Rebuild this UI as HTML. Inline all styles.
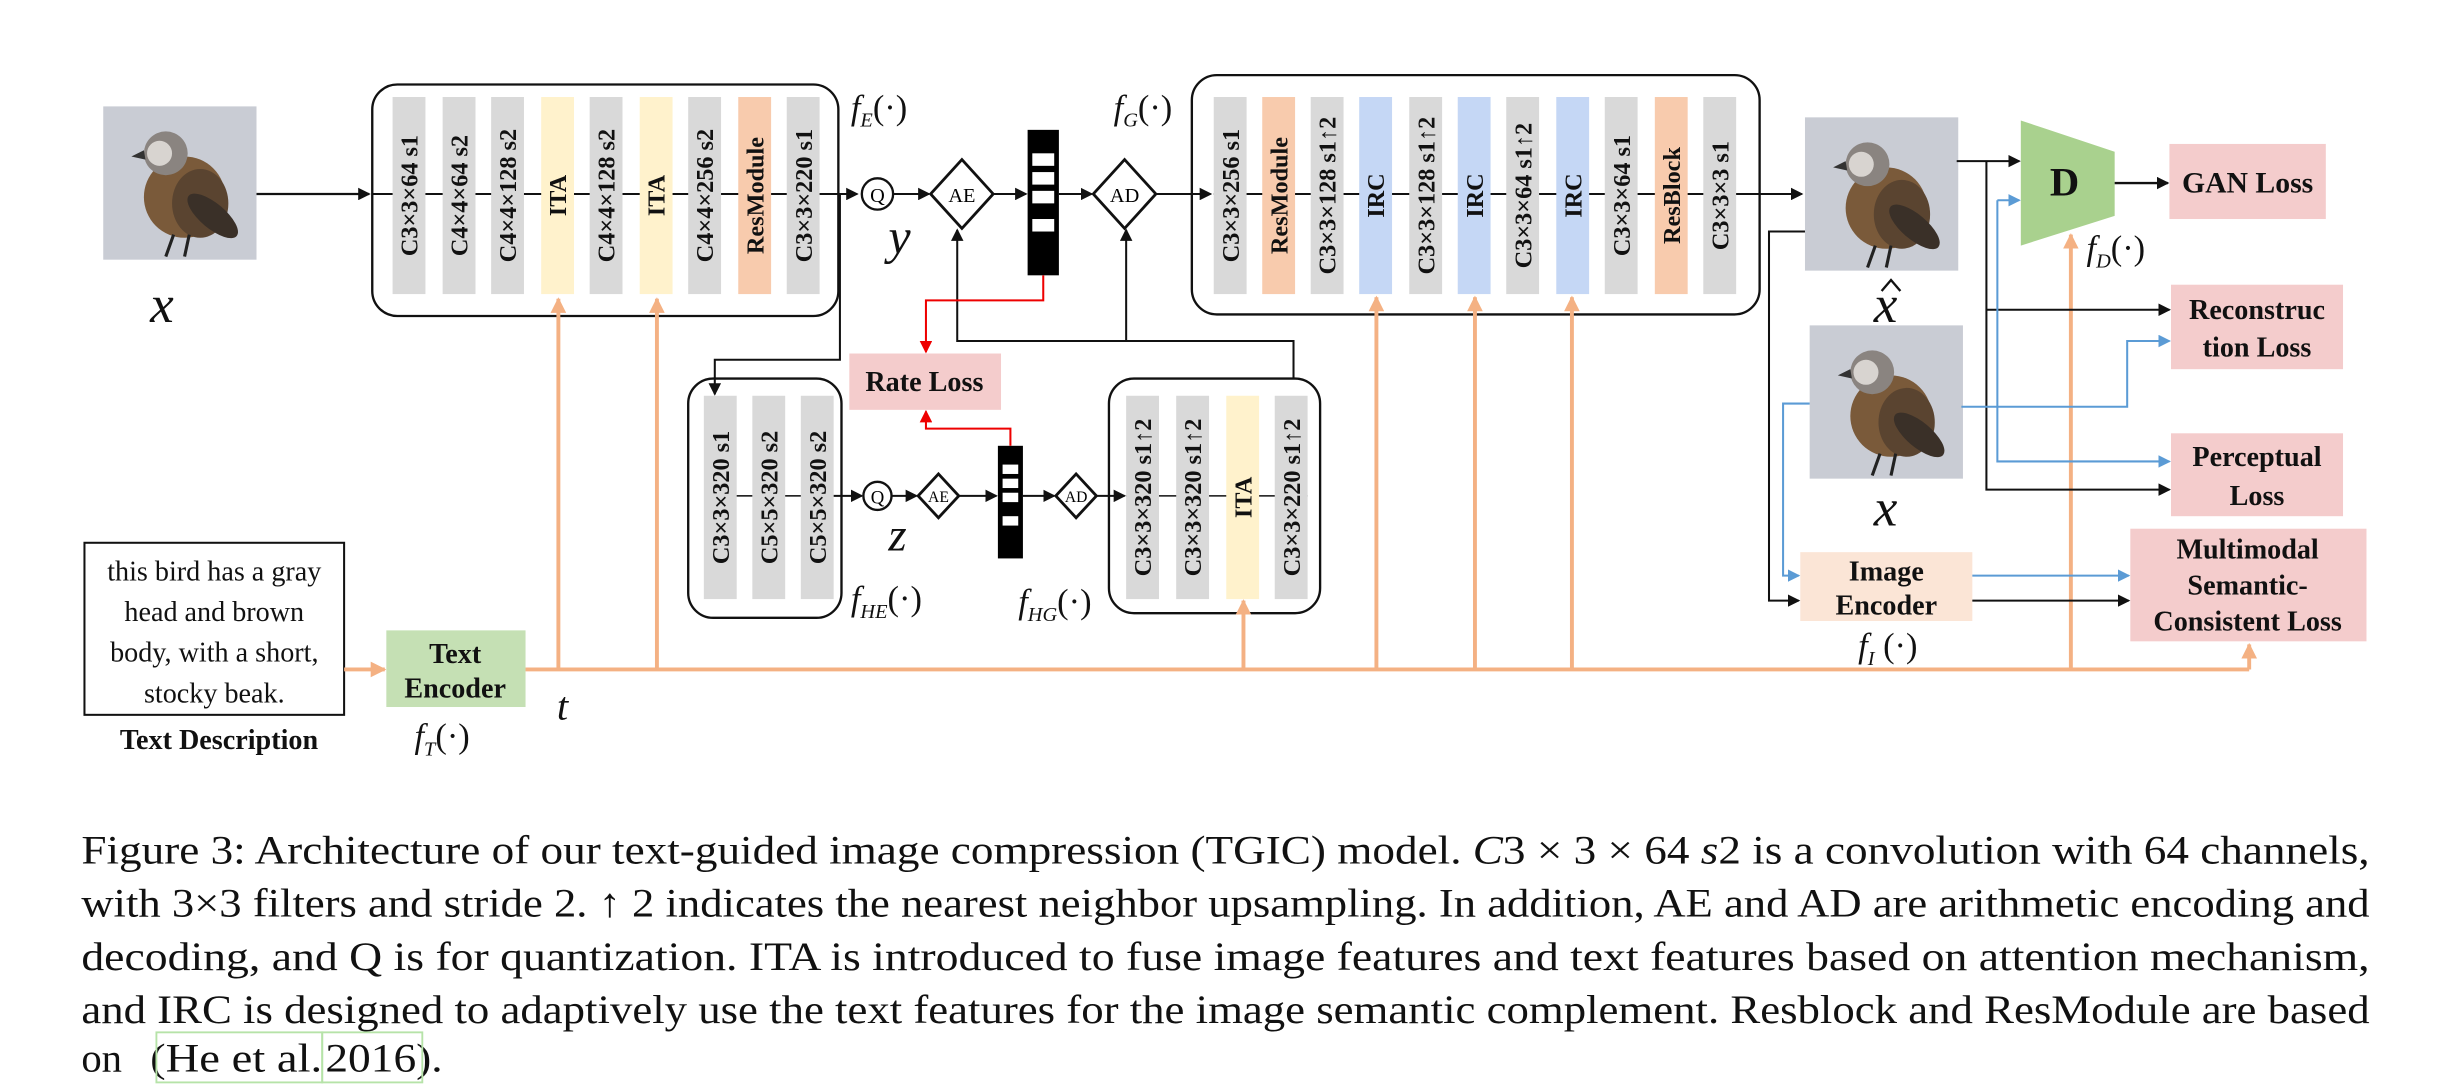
<!DOCTYPE html>
<html><head><meta charset="utf-8"><style>
html,body{margin:0;padding:0;background:#fff;}
svg{display:block}
.c{font-family:"Liberation Serif",serif;font-weight:bold;font-size:15.5px;fill:#111}
.lb{font-family:"Liberation Serif",serif;font-weight:bold;fill:#111}
.it{font-family:"Liberation Serif",serif;font-style:italic;fill:#111}
.cap{font-family:"Liberation Serif",serif;font-size:26px;fill:#111}
</style></head><body>
<svg width="2440" height="1084" viewBox="0 0 1560 693" xmlns="http://www.w3.org/2000/svg">
<defs>
<marker id="ak" markerWidth="8" markerHeight="8" refX="7" refY="4" orient="auto" markerUnits="userSpaceOnUse"><path d="M0,0 L8,4 L0,8 z" fill="#111"/></marker>
<marker id="ar" markerWidth="8" markerHeight="8" refX="7" refY="4" orient="auto" markerUnits="userSpaceOnUse"><path d="M0,0 L8,4 L0,8 z" fill="#e00"/></marker>
<marker id="ab" markerWidth="8" markerHeight="8" refX="7" refY="4" orient="auto" markerUnits="userSpaceOnUse"><path d="M0,0 L8,4 L0,8 z" fill="#5b9bd5"/></marker>
<marker id="ao" markerWidth="10" markerHeight="10" refX="9" refY="5" orient="auto" markerUnits="userSpaceOnUse"><path d="M0,0 L10,5 L0,10 z" fill="#f4b183"/></marker>
<g id="bird">
<rect x="0" y="0" width="98" height="98" fill="#c9ccd4"/>
<ellipse cx="52" cy="58" rx="26" ry="26" fill="#7a5a3a"/>
<ellipse cx="62" cy="62" rx="18" ry="22" fill="#5a4430"/>
<ellipse cx="70" cy="70" rx="20" ry="8" fill="#3a3028" transform="rotate(40 70 70)"/>
<circle cx="40" cy="30" r="14" fill="#8a8480"/>
<circle cx="36" cy="30" r="8" fill="#d8d4d0"/>
<path d="M26,28 L18,32 L27,34 z" fill="#333"/>
<path d="M45,82 L40,96 M55,82 L52,96" stroke="#222" stroke-width="2"/>
</g>
</defs>

<use href="#bird" x="66" y="68"/>
<use href="#bird" x="1154" y="75"/>
<use href="#bird" x="1157" y="208"/>
<text class="it" x="96" y="206" font-size="34">x</text>
<text class="it" x="1198" y="206" font-size="34">x</text>
<polyline points="1203,186 1209,179 1215,186" fill="none" stroke="#111" stroke-width="1.5"/>
<text class="it" x="1198" y="336" font-size="34">x</text>

<line x1="164" y1="124" x2="236" y2="124" stroke="#111" stroke-width="1.5" marker-end="url(#ak)"/>
<line x1="238" y1="124" x2="548" y2="124" stroke="#111" stroke-width="1.3" marker-end="url(#ak)"/>

<rect x="238" y="54" width="298" height="148" rx="16" fill="none" stroke="#111" stroke-width="1.5"/>
<g>
<rect x="251" y="62" width="21" height="126" fill="#d9d9d9"/>
<rect x="283" y="62" width="21" height="126" fill="#d9d9d9"/>
<rect x="314" y="62" width="21" height="126" fill="#d9d9d9"/>
<rect x="346" y="62" width="21" height="126" fill="#fff2cc"/>
<rect x="377" y="62" width="21" height="126" fill="#d9d9d9"/>
<rect x="409" y="62" width="21" height="126" fill="#fff2cc"/>
<rect x="440" y="62" width="21" height="126" fill="#d9d9d9"/>
<rect x="472" y="62" width="21" height="126" fill="#f8cbad"/>
<rect x="503" y="62" width="21" height="126" fill="#d9d9d9"/>
</g>
<g class="c" text-anchor="middle">
<text transform="translate(267,125) rotate(-90)">C3×3×64 s1</text>
<text transform="translate(299,125) rotate(-90)">C4×4×64 s2</text>
<text transform="translate(330,125) rotate(-90)">C4×4×128 s2</text>
<text transform="translate(362,125) rotate(-90)">ITA</text>
<text transform="translate(393,125) rotate(-90)">C4×4×128 s2</text>
<text transform="translate(425,125) rotate(-90)">ITA</text>
<text transform="translate(456,125) rotate(-90)">C4×4×256 s2</text>
<text transform="translate(488,125) rotate(-90)">ResModule</text>
<text transform="translate(519,125) rotate(-90)">C3×3×220 s1</text>
</g>
<text class="it" x="544" y="76" font-size="22">f<tspan font-size="13" dy="5">E</tspan><tspan dy="-5" font-style="normal">(·)</tspan></text>
<text class="it" x="712" y="76" font-size="22">f<tspan font-size="13" dy="5">G</tspan><tspan dy="-5" font-style="normal">(·)</tspan></text>

<circle cx="561" cy="124" r="10" fill="#fff" stroke="#111" stroke-width="1.5"/>
<text x="561" y="129" font-family="Liberation Serif" font-size="13" text-anchor="middle">Q</text>
<text class="it" x="568" y="162" font-size="32">y</text>
<line x1="571" y1="124" x2="594" y2="124" stroke="#111" stroke-width="1.3" marker-end="url(#ak)"/>
<polygon points="595,124 615,102 635,124 615,146" fill="#fff" stroke="#111" stroke-width="1.8"/>
<text x="615" y="129" font-family="Liberation Serif" font-size="13" text-anchor="middle">AE</text>
<line x1="635" y1="124" x2="656" y2="124" stroke="#111" stroke-width="1.3" marker-end="url(#ak)"/>
<rect x="657" y="83" width="20" height="93" fill="#000"/>
<rect x="660" y="98" width="14" height="8" fill="#fff"/>
<rect x="660" y="110" width="14" height="8" fill="#fff"/>
<rect x="660" y="122" width="14" height="8" fill="#fff"/>
<rect x="660" y="140" width="14" height="8" fill="#fff"/>
<line x1="677" y1="124" x2="698" y2="124" stroke="#111" stroke-width="1.3" marker-end="url(#ak)"/>
<polygon points="699,124 719,102 739,124 719,146" fill="#fff" stroke="#111" stroke-width="1.8"/>
<text x="719" y="129" font-family="Liberation Serif" font-size="13" text-anchor="middle">AD</text>
<line x1="739" y1="124" x2="774" y2="124" stroke="#111" stroke-width="1.3" marker-end="url(#ak)"/>

<rect x="762" y="48" width="363" height="153" rx="16" fill="none" stroke="#111" stroke-width="1.5"/>
<line x1="776" y1="124" x2="1110" y2="124" stroke="#111" stroke-width="1.3"/>
<g>
<rect x="776" y="62" width="21" height="126" fill="#d9d9d9"/>
<rect x="807" y="62" width="21" height="126" fill="#f8cbad"/>
<rect x="838" y="62" width="21" height="126" fill="#d9d9d9"/>
<rect x="869" y="62" width="21" height="126" fill="#c5d7f5"/>
<rect x="901" y="62" width="21" height="126" fill="#d9d9d9"/>
<rect x="932" y="62" width="21" height="126" fill="#c5d7f5"/>
<rect x="963" y="62" width="21" height="126" fill="#d9d9d9"/>
<rect x="995" y="62" width="21" height="126" fill="#c5d7f5"/>
<rect x="1026" y="62" width="21" height="126" fill="#d9d9d9"/>
<rect x="1058" y="62" width="21" height="126" fill="#f8cbad"/>
<rect x="1089" y="62" width="21" height="126" fill="#d9d9d9"/>
</g>
<g class="c" text-anchor="middle">
<text transform="translate(792,125) rotate(-90)">C3×3×256 s1</text>
<text transform="translate(823,125) rotate(-90)">ResModule</text>
<text transform="translate(854,125) rotate(-90)">C3×3×128 s1↑2</text>
<text transform="translate(885,125) rotate(-90)">IRC</text>
<text transform="translate(917,125) rotate(-90)">C3×3×128 s1↑2</text>
<text transform="translate(948,125) rotate(-90)">IRC</text>
<text transform="translate(979,125) rotate(-90)">C3×3×64 s1↑2</text>
<text transform="translate(1011,125) rotate(-90)">IRC</text>
<text transform="translate(1042,125) rotate(-90)">C3×3×64 s1</text>
<text transform="translate(1074,125) rotate(-90)">ResBlock</text>
<text transform="translate(1105,125) rotate(-90)">C3×3×3 s1</text>
</g>
<line x1="1110" y1="124" x2="1152" y2="124" stroke="#111" stroke-width="1.3" marker-end="url(#ak)"/>

<polyline points="537,124 537,230 457,230 457,252" fill="none" stroke="#111" stroke-width="1.3" marker-end="url(#ak)"/>

<rect x="440" y="242" width="98" height="153" rx="16" fill="none" stroke="#111" stroke-width="1.5"/>
<rect x="450" y="253" width="21" height="130" fill="#d9d9d9"/>
<rect x="481" y="253" width="21" height="130" fill="#d9d9d9"/>
<rect x="512" y="253" width="21" height="130" fill="#d9d9d9"/>
<line x1="471" y1="317" x2="481" y2="317" stroke="#111"/>
<line x1="502" y1="317" x2="512" y2="317" stroke="#111"/>
<g class="c" text-anchor="middle">
<text transform="translate(466,318) rotate(-90)">C3×3×320 s1</text>
<text transform="translate(497,318) rotate(-90)">C5×5×320 s2</text>
<text transform="translate(528,318) rotate(-90)">C5×5×320 s2</text>
</g>
<line x1="533" y1="317" x2="551" y2="317" stroke="#111" stroke-width="1.3" marker-end="url(#ak)"/>
<circle cx="561" cy="317" r="9" fill="#fff" stroke="#111" stroke-width="1.5"/>
<text x="561" y="322" font-family="Liberation Serif" font-size="12" text-anchor="middle">Q</text>
<text class="it" x="568" y="352" font-size="30">z</text>
<line x1="570" y1="317" x2="586" y2="317" stroke="#111" stroke-width="1.3" marker-end="url(#ak)"/>
<polygon points="587,317 600,303 613,317 600,331" fill="#fff" stroke="#111" stroke-width="1.8"/>
<text x="600" y="321" font-family="Liberation Serif" font-size="10" text-anchor="middle">AE</text>
<line x1="613" y1="317" x2="637" y2="317" stroke="#111" stroke-width="1.3" marker-end="url(#ak)"/>
<rect x="638" y="285" width="16" height="72" fill="#000"/>
<rect x="641" y="297" width="10" height="6" fill="#fff"/>
<rect x="641" y="306" width="10" height="6" fill="#fff"/>
<rect x="641" y="315" width="10" height="6" fill="#fff"/>
<rect x="641" y="330" width="10" height="6" fill="#fff"/>
<line x1="654" y1="317" x2="674" y2="317" stroke="#111" stroke-width="1.3" marker-end="url(#ak)"/>
<polygon points="675,317 688,303 701,317 688,331" fill="#fff" stroke="#111" stroke-width="1.8"/>
<text x="688" y="321" font-family="Liberation Serif" font-size="10" text-anchor="middle">AD</text>
<line x1="701" y1="317" x2="719" y2="317" stroke="#111" stroke-width="1.3" marker-end="url(#ak)"/>
<text class="it" x="544" y="390" font-size="22">f<tspan font-size="13" dy="5">HE</tspan><tspan dy="-5" font-style="normal">(·)</tspan></text>
<text class="it" x="651" y="392" font-size="22">f<tspan font-size="13" dy="5">HG</tspan><tspan dy="-5" font-style="normal">(·)</tspan></text>

<rect x="709" y="242" width="135" height="150" rx="16" fill="none" stroke="#111" stroke-width="1.5"/>
<line x1="720" y1="317" x2="836" y2="317" stroke="#111"/>
<rect x="720" y="253" width="21" height="130" fill="#d9d9d9"/>
<rect x="752" y="253" width="21" height="130" fill="#d9d9d9"/>
<rect x="784" y="253" width="21" height="130" fill="#fff2cc"/>
<rect x="815" y="253" width="21" height="130" fill="#d9d9d9"/>
<g class="c" text-anchor="middle">
<text transform="translate(736,318) rotate(-90)">C3×3×320 s1↑2</text>
<text transform="translate(768,318) rotate(-90)">C3×3×320 s1↑2</text>
<text transform="translate(800,318) rotate(-90)">ITA</text>
<text transform="translate(831,318) rotate(-90)">C3×3×220 s1↑2</text>
</g>
<polyline points="827,242 827,218 612,218 612,147" fill="none" stroke="#111" stroke-width="1.3" marker-end="url(#ak)"/>
<line x1="720" y1="218" x2="720" y2="147" stroke="#111" stroke-width="1.3" marker-end="url(#ak)"/>

<rect x="543" y="226" width="97" height="36" fill="#f4cccc"/>
<text class="lb" x="591" y="250" font-size="18" text-anchor="middle">Rate Loss</text>
<polyline points="667,176 667,192 592,192 592,225" fill="none" stroke="#e00" stroke-width="1.3" marker-end="url(#ar)"/>
<polyline points="646,285 646,274 592,274 592,263" fill="none" stroke="#e00" stroke-width="1.3" marker-end="url(#ar)"/>

<rect x="54" y="347" width="166" height="110" fill="#fff" stroke="#111" stroke-width="1.3"/>
<g font-family="Liberation Serif" font-size="18" text-anchor="middle" fill="#111">
<text x="137" y="371">this bird has a gray</text>
<text x="137" y="397">head and brown</text>
<text x="137" y="423">body, with a short,</text>
<text x="137" y="449">stocky beak.</text>
</g>
<text class="lb" x="140" y="479" font-size="18" text-anchor="middle">Text Description</text>
<line x1="220" y1="428" x2="246" y2="428" stroke="#f4b183" stroke-width="2.5" marker-end="url(#ao)"/>
<rect x="247" y="403" width="89" height="49" fill="#c5e0b4"/>
<text class="lb" x="291" y="424" font-size="18" text-anchor="middle">Text</text>
<text class="lb" x="291" y="446" font-size="18" text-anchor="middle">Encoder</text>
<text class="it" x="265" y="478" font-size="22">f<tspan font-size="13" dy="5">T</tspan><tspan dy="-5" font-style="normal">(·)</tspan></text>
<text class="it" x="356" y="460" font-size="26">t</text>

<g stroke="#f4b183" stroke-width="2.5" fill="none">
<line x1="336" y1="428" x2="1438" y2="428"/>
<line x1="1438" y1="428" x2="1438" y2="412" marker-end="url(#ao)"/>
<line x1="357" y1="428" x2="357" y2="191" marker-end="url(#ao)"/>
<line x1="420" y1="428" x2="420" y2="191" marker-end="url(#ao)"/>
<line x1="795" y1="428" x2="795" y2="384" marker-end="url(#ao)"/>
<line x1="880" y1="428" x2="880" y2="190" marker-end="url(#ao)"/>
<line x1="943" y1="428" x2="943" y2="190" marker-end="url(#ao)"/>
<line x1="1005" y1="428" x2="1005" y2="190" marker-end="url(#ao)"/>
<line x1="1324" y1="428" x2="1324" y2="150" marker-end="url(#ao)"/>
</g>

<polygon points="1292,77 1352,97 1352,138 1292,157" fill="#a9d18e"/>
<text class="lb" x="1320" y="125" font-size="26" text-anchor="middle">D</text>
<text class="it" x="1334" y="166" font-size="22">f<tspan font-size="13" dy="5">D</tspan><tspan dy="-5" font-style="normal">(·)</tspan></text>
<line x1="1352" y1="117" x2="1386" y2="117" stroke="#111" stroke-width="1.5" marker-end="url(#ak)"/>

<rect x="1387" y="92" width="100" height="48" fill="#f4cccc"/>
<text class="lb" x="1437" y="123" font-size="19" text-anchor="middle">GAN Loss</text>
<rect x="1388" y="182" width="110" height="54" fill="#f4cccc"/>
<text class="lb" x="1443" y="204" font-size="18" text-anchor="middle">Reconstruc</text>
<text class="lb" x="1443" y="228" font-size="18" text-anchor="middle">tion Loss</text>
<rect x="1388" y="277" width="110" height="53" fill="#f4cccc"/>
<text class="lb" x="1443" y="298" font-size="18" text-anchor="middle">Perceptual</text>
<text class="lb" x="1443" y="323" font-size="18" text-anchor="middle">Loss</text>
<rect x="1362" y="338" width="151" height="72" fill="#f4cccc"/>
<text class="lb" x="1437" y="357" font-size="18" text-anchor="middle">Multimodal</text>
<text class="lb" x="1437" y="380" font-size="18" text-anchor="middle">Semantic-</text>
<text class="lb" x="1437" y="403" font-size="18" text-anchor="middle">Consistent Loss</text>

<rect x="1151" y="353" width="110" height="44" fill="#fbe5d6"/>
<text class="lb" x="1206" y="371" font-size="18" text-anchor="middle">Image</text>
<text class="lb" x="1206" y="393" font-size="18" text-anchor="middle">Encoder</text>
<text class="it" x="1188" y="420" font-size="22">f<tspan font-size="13" dy="5">I</tspan><tspan dy="-5" font-style="normal"> (·)</tspan></text>

<g stroke="#111" stroke-width="1.3" fill="none">
<line x1="1251" y1="103" x2="1291" y2="103" marker-end="url(#ak)"/>
<polyline points="1270,103 1270,313 1387,313" marker-end="url(#ak)"/>
<line x1="1270" y1="198" x2="1387" y2="198" marker-end="url(#ak)"/>
<polyline points="1154,148 1131,148 1131,384 1150,384" marker-end="url(#ak)"/>
<line x1="1261" y1="384" x2="1361" y2="384" marker-end="url(#ak)"/>
</g>
<g stroke="#5b9bd5" stroke-width="1.3" fill="none">
<polyline points="1277,128 1277,295 1387,295" marker-end="url(#ab)"/>
<line x1="1277" y1="128" x2="1291" y2="128" marker-end="url(#ab)"/>
<polyline points="1254,260 1360,260 1360,218 1387,218" marker-end="url(#ab)"/>
<polyline points="1157,258 1140,258 1140,368 1150,368" marker-end="url(#ab)"/>
<line x1="1261" y1="368" x2="1361" y2="368" marker-end="url(#ab)"/>
</g>

<g class="cap">
<text x="52" y="552" textLength="1463" lengthAdjust="spacingAndGlyphs">Figure 3: Architecture of our text-guided image compression (TGIC) model. <tspan font-style="italic">C</tspan>3 × 3 × 64 <tspan font-style="italic">s</tspan>2 is a convolution with 64 channels,</text>
<text x="52" y="586" textLength="1463" lengthAdjust="spacingAndGlyphs">with 3×3 filters and stride 2. ↑ 2 indicates the nearest neighbor upsampling. In addition, AE and AD are arithmetic encoding and</text>
<text x="52" y="620" textLength="1463" lengthAdjust="spacingAndGlyphs">decoding, and Q is for quantization. ITA is introduced to fuse image features and text features based on attention mechanism,</text>
<text x="52" y="654" textLength="1463" lengthAdjust="spacingAndGlyphs">and IRC is designed to adaptively use the text features for the image semantic complement. Resblock and ResModule are based</text>
<text x="52" y="685">on</text>
<text x="96" y="685" textLength="110" lengthAdjust="spacingAndGlyphs">(He et al.</text>
<text x="208" y="685" textLength="75" lengthAdjust="spacingAndGlyphs">2016).</text>
</g>
<rect x="100" y="660" width="106" height="32" fill="none" stroke="#b6e3a8" stroke-width="1.2"/>
<rect x="206" y="660" width="64" height="32" fill="none" stroke="#b6e3a8" stroke-width="1.2"/>
</svg>
</body></html>
